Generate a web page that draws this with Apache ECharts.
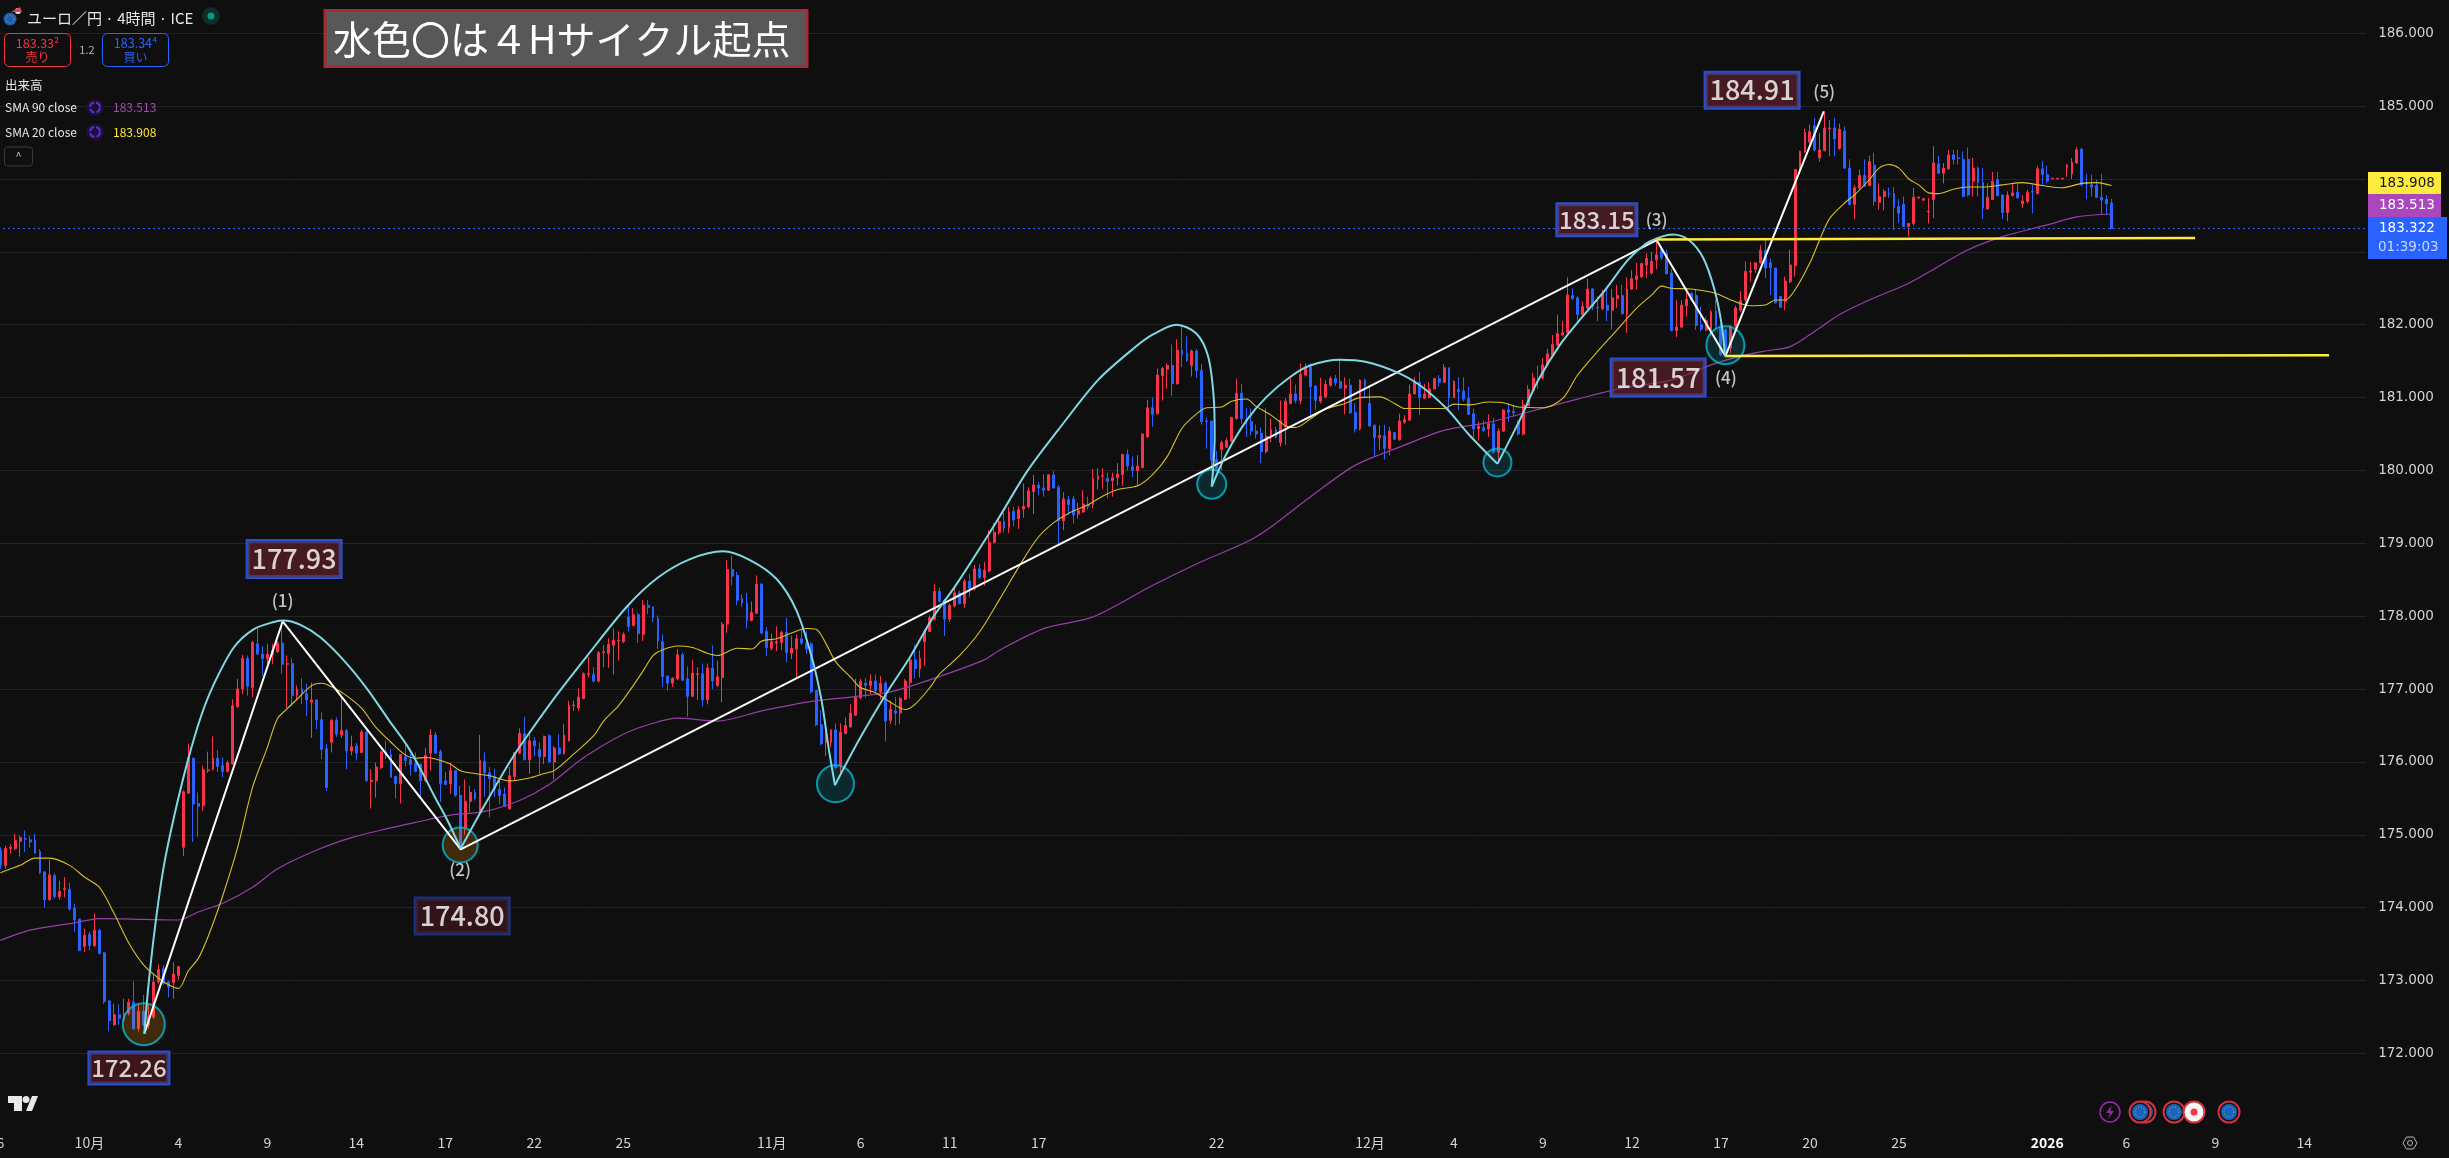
<!DOCTYPE html>
<html>
<head>
<meta charset="utf-8">
<style>html,body{margin:0;padding:0;background:#0f0f0f}#report{width:2449px;height:1158px}</style>
<script src="https://cdn.jsdelivr.net/npm/echarts@6/dist/echarts.min.js"></script>
</head>
<body>
<div id="report"></div>
<script>
// tick labels of the time axis (bar index / text)
var tickIndex = [0, 18, 36, 54, 72, 90, 108, 126, 156, 174, 192, 210, 246, 277, 294, 312, 330, 348, 366, 384, 414, 430, 448, 466];
var tickText = ['6', '10月', '4', '9', '14', '17', '22', '25', '11月', '6', '11', '17', '22', '12月', '4', '9', '12', '17', '20', '25', '2026', '6', '9', '14'];
var barSlots = 479;

// 4 hour candles: open, close, low, high
var candles = [
[174.79,174.58,174.53,174.83],[174.58,174.81,174.53,174.85],[174.81,174.83,174.74,174.87],[174.81,174.92,174.79,175.01],[174.91,174.96,174.70,174.99],
[174.95,174.94,174.76,175.06],[174.93,174.90,174.82,174.99],[174.92,174.75,174.74,175.01],[174.77,174.48,174.46,174.80],[174.49,174.11,174.00,174.50],
[174.11,174.45,174.09,174.65],[174.44,174.15,174.12,174.47],[174.15,174.22,174.11,174.37],[174.25,174.26,174.14,174.42],[174.25,173.98,173.96,174.34],
[173.99,173.83,173.67,174.05],[173.84,173.41,173.41,173.85],[173.47,173.62,173.39,173.71],[173.63,173.48,173.41,173.67],[173.48,173.69,173.46,173.92],
[173.69,173.37,173.36,173.71],[173.38,172.71,172.68,173.39],[172.72,172.45,172.30,172.73],[172.39,172.53,172.38,172.68],[172.53,172.48,172.39,172.67],
[172.46,172.55,172.43,172.75],[172.55,172.70,172.52,172.75],[172.70,172.34,172.32,172.99],[172.34,172.58,172.30,172.68],[172.58,172.39,172.37,172.80],
[172.39,172.50,172.34,172.68],[172.50,172.98,172.47,173.08],[172.98,173.15,172.95,173.22],[173.16,172.96,172.94,173.21],[172.98,172.91,172.77,173.00],
[172.97,173.09,172.75,173.25],[173.07,173.19,173.01,173.20],[174.83,175.59,174.71,175.61],[175.57,176.06,175.56,176.25],[176.05,175.42,174.90,176.06],
[175.43,175.39,174.97,175.58],[175.40,175.89,175.33,175.95],[175.88,175.89,175.85,176.14],[175.90,176.05,175.88,176.35],[176.05,175.94,175.86,176.16],
[175.95,175.87,175.79,176.06],[175.87,175.99,175.86,176.02],[175.97,176.77,175.96,176.86],[176.76,177.00,176.74,177.14],[177.00,177.42,176.93,177.47],
[177.42,177.04,176.91,177.46],[177.02,177.64,176.89,177.66],[177.62,177.48,177.47,177.84],[177.48,177.42,177.18,177.59],[177.42,177.48,177.34,177.62],
[177.47,177.53,177.34,177.62],[177.51,177.63,177.50,177.66],[177.63,177.34,177.21,177.92],[177.34,177.35,176.74,177.46],[177.35,176.91,176.77,177.42],
[176.91,177.00,176.86,177.05],[177.00,176.94,176.79,177.15],[176.94,176.85,176.63,177.07],[176.82,176.85,176.33,177.09],[176.85,176.58,176.45,176.86],
[176.58,176.17,176.04,176.68],[176.18,175.65,175.60,176.25],[176.27,176.57,176.13,176.59],[176.57,176.38,176.34,176.61],[176.37,176.43,176.33,176.89],
[176.43,176.15,175.90,176.45],[176.15,176.21,176.09,176.36],[176.22,176.12,176.02,176.26],[176.13,176.41,176.12,176.44],[176.41,175.74,175.73,176.45],
[175.73,175.75,175.36,175.90],[175.74,175.93,175.51,175.99],[175.92,176.14,175.90,176.15],[176.14,176.09,176.04,176.29],[176.10,175.79,175.78,176.18],
[175.80,175.70,175.50,175.81],[175.70,176.10,175.43,176.11],[176.07,176.02,175.94,176.27],[176.03,175.96,175.81,176.11],[175.98,175.87,175.86,176.13],
[175.97,175.74,175.52,175.97],[175.74,176.09,175.72,176.19],[176.12,176.37,175.88,176.45],[176.37,176.12,176.11,176.41],[176.14,175.70,175.45,176.17],
[175.74,175.69,175.68,175.86],[175.70,175.88,175.56,175.99],[175.88,175.54,175.52,175.88],[175.54,174.83,174.83,175.67],[175.10,175.46,175.00,175.76],
[175.46,175.58,175.31,175.67],[175.58,175.50,175.47,175.63],[175.31,176.02,175.29,176.37],[176.01,175.85,175.52,176.13],[175.85,175.77,175.24,175.93],
[175.80,175.63,175.52,175.90],[175.62,175.54,175.42,175.74],[175.56,175.39,175.38,175.65],[175.36,175.81,175.34,175.93],[175.80,176.13,175.74,176.13],
[176.12,176.39,176.11,176.46],[176.39,176.03,176.02,176.62],[176.03,176.29,175.84,176.42],[176.29,176.22,176.08,176.34],[176.17,176.07,175.83,176.27],
[176.07,176.35,175.97,176.36],[176.36,176.00,175.99,176.38],[176.00,176.19,175.76,176.22],[176.19,176.11,176.10,176.38],[176.11,176.37,176.10,176.52],
[176.29,176.77,176.28,176.84],[176.77,176.78,176.70,176.84],[176.74,176.89,176.70,177.01],[176.87,177.21,176.86,177.23],[177.20,177.21,177.16,177.44],
[177.20,177.11,177.09,177.30],[177.11,177.50,177.09,177.52],[177.50,177.51,177.30,177.60],[177.49,177.61,177.29,177.70],[177.60,177.67,177.20,177.83],
[177.66,177.67,177.39,177.79],[177.65,177.75,177.63,177.78],[177.99,177.86,177.79,178.15],[177.87,178.02,177.87,178.11],[178.02,177.76,177.63,178.05],
[177.75,178.15,177.66,178.22],[178.15,178.12,178.03,178.22],[178.13,177.98,177.92,178.13],[177.97,177.66,177.55,178.01],[177.65,177.17,177.03,177.75],
[177.18,177.08,176.98,177.18],[177.08,177.15,177.03,177.16],[177.14,177.47,177.12,177.55],[177.47,177.12,177.11,177.50],[177.14,176.90,176.62,177.31],
[176.90,177.22,176.89,177.40],[177.20,177.21,176.85,177.30],[177.21,176.85,176.76,177.35],[176.85,177.29,176.79,177.35],[177.29,177.11,177.00,177.60],
[177.05,177.17,177.03,177.39],[177.16,177.89,176.82,177.92],[177.89,178.64,177.77,178.77],[178.64,178.55,178.42,178.83],[178.56,178.22,178.15,178.61],
[178.24,178.18,178.13,178.30],[178.18,177.94,177.83,178.32],[177.94,178.05,177.93,178.20],[178.04,178.44,178.03,178.56],[178.44,177.77,177.75,178.45],
[177.79,177.57,177.45,177.85],[177.56,177.65,177.53,177.76],[177.63,177.65,177.52,177.86],[177.64,177.78,177.53,177.80],[177.78,177.50,177.37,177.98],
[177.49,177.56,177.41,177.73],[177.55,177.69,177.14,177.75],[177.69,177.63,177.61,177.83],[177.63,177.55,177.48,177.80],[177.62,176.96,176.94,177.64],
[176.98,176.51,176.49,176.98],[176.51,176.25,176.23,176.71],[176.27,176.37,176.08,176.45],[176.27,176.44,176.20,176.45],[176.44,175.92,175.90,176.53],
[175.95,176.41,175.85,176.53],[176.39,176.50,176.38,176.61],[176.48,176.67,176.47,176.79],[176.64,176.89,176.63,177.14],[176.88,177.11,176.86,177.14],
[177.08,177.05,176.88,177.15],[177.05,177.11,176.93,177.20],[177.11,176.98,176.95,177.20],[176.96,177.08,176.86,177.18],[177.08,176.56,176.28,177.11],
[176.57,176.72,176.52,176.84],[176.70,176.67,176.50,176.89],[176.67,176.87,176.52,176.89],[176.86,177.11,176.85,177.14],[177.09,177.40,176.87,177.41],
[177.40,177.28,177.15,177.61],[177.28,177.42,177.16,177.53],[177.65,177.79,177.32,177.82],[177.79,177.98,177.78,178.01],[177.96,178.34,177.94,178.44],
[178.34,178.20,178.19,178.39],[178.22,177.96,177.73,178.24],[177.96,178.15,177.92,178.17],[178.14,178.32,178.12,178.39],[178.32,178.17,178.17,178.35],
[178.17,178.48,178.11,178.51],[178.48,178.38,178.26,178.58],[178.38,178.65,178.35,178.70],[178.65,178.53,178.51,178.72],[178.53,178.63,178.42,178.74],
[178.62,179.01,178.60,179.18],[179.01,179.15,179.00,179.28],[179.15,179.30,179.12,179.35],[179.30,179.21,179.15,179.42],[179.22,179.43,179.14,179.50],
[179.44,179.32,179.23,179.50],[179.34,179.46,179.20,179.51],[179.47,179.51,179.35,179.82],[179.50,179.72,179.48,179.77],[179.71,179.80,179.40,179.94],
[179.80,179.76,179.66,179.84],[179.76,179.73,179.64,179.95],[179.73,179.94,179.72,179.95],[179.94,179.76,179.75,179.99],[179.77,179.31,178.99,179.80],
[179.31,179.61,179.18,179.70],[179.60,179.53,179.39,179.65],[179.61,179.39,179.27,179.65],[179.40,179.45,179.34,179.56],[179.43,179.54,179.42,179.73],
[179.53,179.51,179.46,179.64],[179.53,179.89,179.48,180.02],[179.88,179.92,179.74,180.03],[179.92,179.93,179.75,180.03],[179.89,179.85,179.62,179.97],
[179.86,179.90,179.64,179.97],[179.90,179.95,179.79,180.10],[179.94,180.22,179.79,180.23],[180.22,180.06,180.00,180.29],[180.05,180.00,179.91,180.19],
[180.00,180.06,179.78,180.21],[180.04,180.50,180.03,180.51],[180.46,180.86,180.45,180.97],[180.86,180.77,180.60,181.00],[180.78,181.31,180.77,181.40],
[181.30,181.40,180.96,181.42],[181.39,181.44,181.12,181.47],[181.44,181.19,181.02,181.73],[181.19,181.65,181.18,181.80],[181.65,181.59,181.42,182.00],
[181.61,181.51,181.49,181.84],[181.44,181.64,181.29,181.66],[181.64,181.37,181.27,181.67],[181.37,180.67,180.63,181.46],[180.68,180.67,180.30,180.73],
[180.68,180.14,180.00,180.68],[180.15,180.00,180.00,180.27],[180.29,180.38,180.00,180.41],[180.32,180.41,180.31,180.45],[180.40,180.73,180.39,180.73],
[180.71,181.06,180.70,181.26],[181.06,180.71,180.64,181.19],[180.70,180.68,180.46,180.86],[180.67,180.54,180.48,180.85],[180.54,180.50,180.44,180.63],
[180.51,180.26,180.10,180.59],[180.26,180.47,180.23,180.85],[180.47,180.56,180.39,180.71],[180.56,180.45,180.44,180.60],[180.38,180.69,180.33,180.96],
[180.60,180.95,180.35,180.99],[180.92,181.05,180.91,181.27],[181.05,180.96,180.92,181.18],[180.96,181.32,180.91,181.47],[181.31,181.41,181.29,181.47],
[181.42,181.15,180.76,181.47],[181.16,180.96,180.83,181.16],[180.95,181.02,180.92,181.27],[181.01,181.18,180.99,181.24],[181.17,181.26,181.15,181.29],
[181.26,181.20,181.16,181.31],[181.22,181.13,181.12,181.53],[181.13,181.17,180.77,181.28],[181.17,180.79,180.78,181.26],[180.80,180.57,180.52,180.92],
[180.57,181.24,180.55,181.25],[181.24,181.16,181.01,181.26],[180.92,180.61,180.60,181.17],[180.62,180.45,180.20,180.63],[180.45,180.48,180.28,180.62],
[180.48,180.30,180.15,180.63],[180.30,180.54,180.21,180.60],[180.52,180.43,180.42,180.53],[180.42,180.68,180.41,180.78],[180.66,180.70,180.64,180.76],
[180.69,181.05,180.68,181.18],[181.05,181.21,181.05,181.28],[181.21,181.00,180.76,181.35],[180.99,181.05,180.98,181.19],[181.00,181.12,180.99,181.21],
[181.12,181.26,181.11,181.27],[181.26,181.21,181.15,181.31],[181.21,181.41,181.20,181.46],[181.41,181.00,180.82,181.41],[181.00,181.22,180.99,181.24],
[181.11,181.08,180.83,181.28],[181.09,180.98,180.95,181.28],[180.99,180.77,180.76,181.15],[180.78,180.57,180.45,180.85],[180.57,180.61,180.41,180.67],
[180.59,180.55,180.53,180.69],[180.57,180.64,180.46,180.77],[180.64,180.25,180.23,180.72],[180.25,180.54,180.10,180.58],[180.54,180.83,180.53,180.84],
[180.83,180.80,180.67,180.92],[180.81,180.79,180.74,180.90],[180.67,180.50,180.48,180.69],[180.50,180.90,180.48,180.97],[180.89,181.11,180.89,181.17],
[181.10,181.27,181.08,181.34],[181.27,181.26,181.12,181.44],[181.27,181.45,181.25,181.54],[181.45,181.60,181.44,181.67],[181.57,181.73,181.54,181.86],
[181.72,181.88,181.72,182.14],[181.86,181.89,181.84,182.05],[181.89,182.41,181.89,182.65],[182.40,182.36,182.34,182.50],[182.37,182.14,182.01,182.39],
[182.14,182.25,182.12,182.32],[182.23,182.49,182.21,182.63],[182.49,182.25,182.20,182.50],[182.24,182.23,182.05,182.39],[182.22,182.43,182.20,182.48],
[182.27,182.20,182.05,182.50],[182.20,182.37,181.94,182.49],[182.36,182.40,182.23,182.55],[182.40,182.15,182.14,182.55],[182.15,182.49,181.89,182.65],
[182.49,182.63,182.48,182.75],[182.62,182.67,182.48,182.85],[182.66,182.84,182.64,182.85],[182.82,182.91,182.64,182.98],[182.71,182.87,182.69,183.00],
[182.89,182.96,182.76,183.16],[183.03,182.92,182.89,183.08],[182.98,182.70,182.69,183.03],[182.71,181.92,181.91,182.76],[181.92,181.97,181.83,182.34],
[181.97,182.27,181.95,182.34],[182.26,182.35,182.11,182.46],[182.43,182.34,182.33,182.45],[182.40,181.99,181.93,182.48],[182.00,181.94,181.91,182.25],
[181.93,182.06,181.91,182.11],[181.93,182.18,181.84,182.20],[182.19,181.98,181.93,182.34],[181.98,181.59,181.57,182.02],[181.93,181.57,181.56,181.95],
[181.68,181.98,181.61,181.99],[181.98,182.23,181.95,182.26],[182.20,182.33,182.17,182.46],[182.34,182.73,182.23,182.87],[182.72,182.74,182.59,182.86],
[182.76,182.85,182.71,182.85],[182.85,183.02,182.84,183.09],[183.02,182.78,182.64,183.18],[182.85,182.78,182.41,182.91],[182.78,182.30,182.29,182.78],
[182.39,182.24,182.23,182.39],[182.32,182.60,182.20,182.66],[182.59,182.82,182.57,183.03],[182.81,184.13,182.66,184.14],[184.12,184.38,184.10,184.39],
[184.37,184.64,184.36,184.69],[184.51,184.65,184.49,184.75],[184.73,184.40,184.38,184.84],[184.29,184.40,184.24,184.63],[184.39,184.70,184.38,184.93],
[184.69,184.70,184.31,184.81],[184.70,184.55,184.31,184.84],[184.42,184.68,184.40,184.76],[184.66,184.15,184.14,184.72],[184.15,183.65,183.64,184.27],
[183.65,183.88,183.45,183.92],[183.88,184.05,183.85,184.13],[184.05,183.90,183.89,184.27],[183.91,184.24,183.90,184.32],[184.19,183.69,183.63,184.36],
[183.68,183.76,183.58,183.94],[183.76,183.83,183.57,183.86],[183.80,183.79,183.74,183.88],[183.80,183.61,183.30,183.89],[183.62,183.53,183.40,183.72],
[183.65,183.35,183.34,183.76],[183.35,183.39,183.21,183.40],[183.39,183.75,183.36,183.88],[183.74,183.75,183.73,183.76],[183.71,183.73,183.70,183.74],
[183.55,183.56,183.39,183.74],[183.72,184.22,183.46,184.45],[184.21,184.08,184.07,184.32],[184.08,184.15,183.94,184.22],[184.14,184.33,184.13,184.40],
[184.33,184.27,184.20,184.40],[184.29,184.28,184.20,184.40],[184.27,183.76,183.75,184.38],[184.27,183.78,183.76,184.43],[183.97,184.15,183.76,184.29],
[184.15,183.95,183.76,184.17],[183.95,183.60,183.45,184.15],[183.59,183.75,183.58,183.94],[183.72,183.97,183.71,184.10],[183.99,183.77,183.76,184.10],
[183.78,183.54,183.45,183.79],[183.54,183.78,183.42,183.83],[183.77,183.81,183.76,183.94],[183.82,183.74,183.73,183.94],[183.66,183.70,183.60,183.78],
[183.69,183.82,183.67,183.85],[183.83,183.82,183.53,183.92],[183.80,184.14,183.79,184.18],[184.14,184.06,183.92,184.25],[184.06,183.97,183.94,184.18],
[184.00,184.01,184.00,184.01],[184.00,184.01,184.00,184.01],[184.00,184.01,184.00,184.01],[184.16,184.19,184.03,184.21],[184.07,184.23,184.00,184.29],
[184.22,184.40,184.21,184.44],[184.41,183.92,183.90,184.43],[183.95,183.93,183.72,184.07],[183.92,183.89,183.76,184.06],[183.91,183.75,183.74,183.99],
[183.75,183.71,183.51,184.07],[183.72,183.66,183.51,183.78],[183.67,183.32,183.31,183.73]
];

// moving averages as [bar, price]
var sma20 = [[0,174.48],[4,174.58],[7,174.68],[10,174.68],[14,174.58],[17,174.42],[20,174.28],[23,173.92],[26,173.51],[29,173.21],[32,173.03],[34,172.94],[36,172.89],[38,173.13],[40,173.30],[42,173.60],[45,174.17],[48,174.83],[51,175.65],[54,176.20],[56,176.59],[58,176.73],[60,176.86],[63,177.05],[65,177.08],[67,177.03],[70,176.91],[73,176.74],[76,176.47],[79,176.27],[82,176.09],[84,176.05],[86,176.06],[88,176.04],[91,175.97],[93,175.88],[96,175.84],[99,175.81],[103,175.74],[107,175.78],[110,175.84],[112,175.88],[116,176.11],[120,176.36],[122,176.56],[125,176.77],[127,176.95],[130,177.25],[132,177.46],[134,177.54],[137,177.59],[140,177.57],[143,177.49],[145,177.46],[149,177.56],[152,177.55],[154,177.66],[157,177.69],[160,177.77],[163,177.83],[165,177.82],[167,177.62],[169,177.37],[172,177.16],[174,177.02],[177,176.95],[180,176.82],[183,176.72],[185,176.79],[188,177.02],[190,177.21],[194,177.46],[198,177.78],[202,178.22],[207,178.79],[210,179.09],[213,179.28],[216,179.41],[220,179.53],[223,179.65],[226,179.74],[230,179.79],[233,179.94],[236,180.19],[239,180.58],[242,180.78],[244,180.86],[247,180.87],[249,180.95],[252,180.98],[254,180.88],[257,180.76],[260,180.61],[262,180.59],[265,180.71],[268,180.84],[272,180.92],[275,181.00],[279,181.01],[282,180.92],[284,180.85],[289,180.85],[292,180.85],[294,180.91],[297,180.90],[301,180.94],[304,180.93],[307,180.87],[312,180.86],[316,180.99],[319,181.31],[323,181.63],[327,181.93],[331,182.23],[334,182.41],[336,182.53],[338,182.50],[342,182.49],[347,182.43],[350,182.34],[354,182.26],[357,182.27],[359,182.34],[361,182.34],[363,182.48],[366,182.85],[368,183.17],[370,183.46],[373,183.67],[375,183.78],[378,183.99],[380,184.15],[382,184.20],[384,184.15],[386,184.00],[388,183.92],[390,183.81],[392,183.80],[395,183.86],[398,183.89],[401,183.89],[405,183.92],[409,183.95],[413,183.91],[417,183.88],[421,183.94],[424,183.95],[427,183.91]];
var sma90 = [[0,173.55],[6,173.69],[15,173.79],[20,173.85],[29,173.84],[36,173.83],[40,173.94],[45,174.06],[51,174.28],[56,174.53],[64,174.79],[71,174.96],[78,175.08],[84,175.17],[91,175.27],[98,175.32],[105,175.47],[111,175.69],[118,176.06],[126,176.38],[132,176.53],[137,176.60],[145,176.56],[154,176.70],[164,176.83],[172,176.89],[180,176.96],[189,177.15],[199,177.40],[202,177.53],[211,177.83],[221,177.99],[233,178.42],[242,178.72],[254,179.09],[265,179.64],[274,180.07],[283,180.32],[292,180.55],[301,180.66],[310,180.82],[319,180.98],[328,181.13],[338,181.24],[346,181.45],[352,181.57],[357,181.64],[362,181.70],[367,181.91],[372,182.14],[378,182.34],[386,182.57],[392,182.80],[398,183.03],[405,183.21],[414,183.37],[420,183.48],[427,183.52]];

// wave count drawn by hand on the chart
var waveLine = [[29.1,172.27],[57.1,177.93],[93.1,174.80],[335,183.16],[348.9,181.57],[368.8,184.93]];
var arc1 = [[29.1,172.27],[30,172.97],[31.4,173.8],[33,174.55],[35.1,175.24],[37.8,175.99],[40.5,176.61],[43.2,177.07],[47.2,177.57],[51.2,177.82],[55.3,177.92],[57.3,177.94],[60.7,177.88],[64.7,177.71],[69.5,177.39],[74.2,177.0],[78.6,176.57],[82.3,176.22],[85.3,175.86],[87.7,175.54],[90.4,175.2],[93.1,174.81]];
var arc2 = [[93.1,174.81],[97.8,175.39],[103.3,176.03],[106.9,176.39],[112.3,176.9],[118.6,177.45],[126.7,178.13],[133,178.53],[139.4,178.78],[146.2,178.89],[151.6,178.77],[157,178.51],[161,178.08],[164.1,177.44],[166.1,176.84],[167.5,176.2],[168.8,175.68]];
var arc3 = [[168.8,175.68],[173.9,176.33],[179.3,176.95],[184,177.44],[188.7,177.99],[193.4,178.44],[201.5,179.3],[207.6,179.98],[214,180.56],[222,181.24],[229.3,181.68],[233.2,181.87],[237.9,182.0],[241.9,181.88],[244.3,181.56],[245.4,181.01],[245.6,180.46],[245,179.78]];
var arc4 = [[245,179.78],[248,180.23],[252.1,180.69],[256.1,181.01],[260.8,181.28],[264.9,181.44],[270.9,181.52],[276.3,181.49],[282.4,181.35],[287.1,181.17],[292.5,180.85],[297.2,180.48],[302.8,180.09]];
var arc5 = [[302.8,180.09],[307.3,180.69],[310.9,181.22],[315.5,181.73],[320,182.11],[324.6,182.48],[329.2,182.89],[333,183.12],[336,183.21],[338.3,183.24],[341.4,183.17],[344.4,182.92],[346.7,182.48],[348.2,181.98],[348.8,181.57]];
var levelHigh = [[335,183.17],[443.9,183.19]];
var levelLow = [[348.9,181.57],[471,181.58]];
var cycleStarts = [[29,172.40],[93,174.86],[168.9,175.70],[245,179.81],[302.8,180.11],[348.9,181.72]];
var waveMarks = [[57.1,178.22,'(1)'],[93,174.52,'(2)'],[335,183.45,'(3)'],[349,181.27,'(4)'],[368.9,185.20,'(5)']];
var priceNotes = [[59.4,178.785,'177.93'],[93.4,173.886,'174.80'],[26,171.80,'172.26'],[322.9,183.44,'183.15'],[335.3,181.276,'181.57'],[354.3,185.22,'184.91']];
var lastClose = 183.322;

var circleSizes = [42, 35, 37, 29, 28, 38];
var circleFill = ['rgba(255,152,0,0.25)', 'rgba(255,152,0,0.25)', 'rgba(0,188,212,0.2)', 'rgba(0,188,212,0.2)', 'rgba(0,188,212,0.2)', 'rgba(0,188,212,0.2)'];
var noteStyle = [
  {w: 93, h: 36, bg: 'rgba(112,36,46,0.7)', line: '#2962ff', size: 27},
  {w: 93, h: 35, bg: 'rgba(72,24,32,0.75)', line: '#1a3a9c', size: 27},
  {w: 79, h: 31, bg: 'rgba(100,30,36,0.68)', line: '#2962ff', size: 24},
  {w: 79, h: 31, bg: 'rgba(112,36,46,0.7)', line: '#2962ff', size: 24},
  {w: 93, h: 36, bg: 'rgba(112,36,46,0.7)', line: '#2962ff', size: 27},
  {w: 93, h: 35, bg: 'rgba(112,36,46,0.7)', line: '#2962ff', size: 27}
];
var JP = '"Noto Sans CJK JP"';
var SCALE_FONT = '13.5px "DejaVu Sans"';

var myChart = echarts.init(document.getElementById('report'), null, {renderer: 'canvas'});

var categories = [];
for (var i = 0; i < barSlots; i++) categories.push(String(i));

function overlay(data, color, width, extra) {
  return Object.assign({
    type: 'line', xAxisIndex: 1, yAxisIndex: 0, data: data, symbol: 'none', silent: true,
    lineStyle: {color: color, width: width}, z: 6
  }, extra || {});
}

// small helpers for the toolbar bits that are not part of the plot
function label(x, y, text, color, size, extra) {
  return {type: 'text', z: 100, x: x, y: y, style: Object.assign({
    text: text, fill: color, font: size + 'px ' + JP, textVerticalAlign: 'middle', verticalAlign: 'middle'
  }, extra || {})};
}
function box(x, y, w, h, fill, stroke, lw, r) {
  return {type: 'rect', z: 99, shape: {x: x, y: y, width: w, height: h, r: r || 0},
    style: {fill: fill, stroke: stroke || null, lineWidth: lw || 0}};
}
function dot(x, y, r, fill, stroke, lw, dash) {
  return {type: 'circle', z: 99, shape: {cx: x, cy: y, r: r},
    style: {fill: fill, stroke: stroke || null, lineWidth: lw || 0, lineDash: dash || null}};
}
function euBadge(x) {
  return [dot(x, 1112, 10.5, '#0f0f0f', '#d8303e', 2), dot(x, 1112, 8, '#1565c0'), dot(x, 1112, 5, null, '#e0b93a', 1, [1, 2])];
}

var ui = [
  // header
  dot(10, 19, 6.5, '#1a5fb4'), dot(10, 19, 4, null, '#e0b93a', 1, [1, 2]), dot(18, 11, 3, '#e8e8e8'),
  {type: 'polygon', z: 99, shape: {points: [[11, 12], [20, 7], [22, 12]]}, style: {fill: '#e04050'}},
  label(27, 18, 'ユーロ／円 · 4時間 · ICE', '#e6e6e6', 15),
  dot(211, 16, 9, '#0f2d28'), dot(211, 16, 3.5, '#089981'),
  box(4.5, 33.5, 66, 33, 'rgba(0,0,0,0)', '#f23645', 1, 5),
  label(37.5, 43, '183.33²', '#f23645', 12.5, {align: 'center', textAlign: 'center'}),
  label(37.5, 57, '売り', '#f23645', 12, {align: 'center', textAlign: 'center'}),
  label(87, 50, '1.2', '#b2b5be', 11, {align: 'center', textAlign: 'center'}),
  box(102.5, 33.5, 66, 33, 'rgba(0,0,0,0)', '#2962ff', 1, 5),
  label(135.5, 43, '183.34⁴', '#2962ff', 12.5, {align: 'center', textAlign: 'center'}),
  label(135.5, 57, '買い', '#2962ff', 12, {align: 'center', textAlign: 'center'}),
  label(5, 85, '出来高', '#e6e6e6', 12.5),
  label(5, 107.5, 'SMA 90 close', '#e6e6e6', 12),
  dot(95, 107.5, 9, '#1a1230'), dot(95, 107.5, 5, null, '#5e2bd8', 2, [6, 2]),
  label(113, 107.5, '183.513', '#ab47bc', 12),
  label(5, 132, 'SMA 20 close', '#e6e6e6', 12),
  dot(95, 132, 9, '#1a1230'), dot(95, 132, 5, null, '#5e2bd8', 2, [6, 2]),
  label(113, 132, '183.908', '#ffeb3b', 12),
  box(4.5, 147, 28, 19, 'rgba(0,0,0,0)', '#3a3a3a', 1, 3),
  label(18.5, 156, '^', '#c8c8c8', 11, {align: 'center', textAlign: 'center'}),
  // headline box
  box(325, 10.5, 482, 56, '#585858', '#a82a35', 3),
  label(333, 39, '水色〇は４Hサイクル起点', '#ffffff', 39),
  // price tags on the scale
  box(2368, 172, 73, 22, '#ffeb3b'),
  label(2379, 183.7, '183.908', '#131722', 13, {font: SCALE_FONT}),
  box(2368, 194, 73, 23, '#ab47bc'),
  label(2379, 205.7, '183.513', '#ffffff', 13, {font: SCALE_FONT}),
  box(2368, 217, 79, 42, '#2962ff'),
  label(2379, 228.7, '183.322', '#ffffff', 13, {font: SCALE_FONT}),
  label(2378, 247.7, '01:39:03', '#c9d6ff', 13, {font: SCALE_FONT}),
  // logo
  {type: 'polygon', z: 99, shape: {points: [[8, 1096], [22, 1096], [22, 1111], [14, 1111], [14, 1103], [8, 1103]]}, style: {fill: '#e8e8e8'}},
  dot(26, 1099.5, 3.5, '#e8e8e8'),
  {type: 'polygon', z: 99, shape: {points: [[32, 1096], [38, 1096], [32, 1111], [26, 1111]]}, style: {fill: '#e8e8e8'}},
  // event badges and settings
  dot(2110, 1112, 10, '#0f0f0f', '#9c27b0', 1.5),
  {type: 'polygon', z: 100, shape: {points: [[2112, 1105], [2106, 1113], [2110, 1113], [2108, 1119], [2114, 1111], [2110, 1111]]}, style: {fill: '#9c27b0'}}
].concat(euBadge(2145), euBadge(2140), euBadge(2174), [
  dot(2194, 1112, 10.5, '#f5f5f5', '#d8303e', 2), dot(2194, 1112, 3.5, '#f23645')
], euBadge(2229), [
  {type: 'polygon', z: 100, shape: {points: [[2403, 1143], [2406.5, 1137], [2413.5, 1137], [2417, 1143], [2413.5, 1149], [2406.5, 1149]]}, style: {fill: 'rgba(0,0,0,0)', stroke: '#b2b5be', lineWidth: 1}},
  dot(2410, 1143, 2.5, null, '#b2b5be', 1)
]);

var option = {
  animation: false,
  backgroundColor: '#0f0f0f',
  grid: {outerBoundsMode: 'none', left: -2.07, width: 2368.2, top: -39.56, height: 1165.76},
  xAxis: [
    {
      type: 'category', data: categories, boundaryGap: true,
      axisLine: {show: false}, axisTick: {show: false}, splitLine: {show: false},
      axisLabel: {
        margin: 9, color: '#d1d4dc', fontFamily: JP, fontSize: 14, hideOverlap: false,
        interval: function (idx) { return tickIndex.indexOf(idx) >= 0; },
        formatter: function (v) {
          var t = tickText[tickIndex.indexOf(Number(v))];
          return t === '2026' ? '{b|' + t + '}' : t;
        },
        rich: {b: {fontWeight: 'bold', color: '#ffffff', fontSize: 14, fontFamily: JP}}
      }
    },
    {type: 'value', min: -0.5, max: barSlots - 0.5, show: false, splitLine: {show: false}}
  ],
  yAxis: {
    type: 'value', position: 'right', min: 171, max: 187, interval: 1,
    axisLine: {show: false}, axisTick: {show: false},
    splitLine: {lineStyle: {color: '#232323', width: 1}, showMinLine: false, showMaxLine: false},
    axisLabel: {
      margin: 12, color: '#d1d4dc', fontFamily: 'DejaVu Sans', fontSize: 13.5, showMinLabel: false,
      formatter: function (v) { return v.toFixed(3); }
    }
  },
  series: [
    {
      type: 'candlestick', data: candles, barWidth: 2.4, silent: true, z: 3,
      itemStyle: {color: '#f7344a', color0: '#2962ff', borderColor: '#f7344a', borderColor0: '#2962ff', borderWidth: 1},
      markLine: {
        silent: true, symbol: 'none', label: {show: false},
        lineStyle: {color: '#2962ff', type: [2, 3], width: 1, opacity: 1},
        data: [{yAxis: lastClose}]
      }
    },
    overlay(sma90, '#953fa8', 1, {smooth: 0.3, z: 4, lineStyle: {color: '#953fa8', width: 1.2}}),
    overlay(sma20, '#d9c02a', 1, {smooth: 0.3, z: 4, lineStyle: {color: '#d9c02a', width: 1.1}}),
    {
      type: 'scatter', xAxisIndex: 1, yAxisIndex: 0, silent: true, z: 5,
      data: cycleStarts.map(function (p, k) {
        return {value: p, symbolSize: circleSizes[k], itemStyle: {color: circleFill[k], borderColor: '#00bcd4', borderWidth: 2}};
      })
    },
    overlay(waveLine, '#ffffff', 2),
    overlay(arc1, '#7fd8e2', 2, {smooth: 0.3}),
    overlay(arc2, '#7fd8e2', 2, {smooth: 0.3}),
    overlay(arc3, '#7fd8e2', 2, {smooth: 0.3}),
    overlay(arc4, '#7fd8e2', 2, {smooth: 0.3}),
    overlay(arc5, '#7fd8e2', 2, {smooth: 0.3}),
    overlay(levelHigh, '#ffeb3b', 2.5),
    overlay(levelLow, '#ffeb3b', 2.5),
    {
      type: 'scatter', xAxisIndex: 1, yAxisIndex: 0, silent: true, z: 8, symbolSize: 1,
      itemStyle: {color: 'rgba(0,0,0,0)'},
      data: waveMarks.map(function (m) {
        return {value: [m[0], m[1]], name: m[2]};
      }),
      label: {show: true, position: 'inside', color: '#f0f0f0', fontFamily: JP, fontSize: 17, fontWeight: 500, formatter: '{b}'}
    },
    {
      type: 'scatter', xAxisIndex: 1, yAxisIndex: 0, silent: true, z: 9, symbolSize: 1,
      itemStyle: {color: 'rgba(0,0,0,0)'},
      data: priceNotes.map(function (n, k) {
        var s = noteStyle[k];
        return {
          value: [n[0], n[1]], name: n[2],
          label: {
            show: true, position: 'inside', formatter: '{b}', color: '#ffffff', fontFamily: JP, fontSize: s.size, fontWeight: 500,
            width: s.w, height: s.h, lineHeight: s.h, align: 'center', verticalAlign: 'middle',
            backgroundColor: s.bg, borderColor: s.line, borderWidth: 2
          }
        };
      })
    }
  ],
  graphic: {elements: ui}
};

// 使用刚指定的配置项和数据显示图表。
myChart.setOption(option);
</script>
</body>
</html>
